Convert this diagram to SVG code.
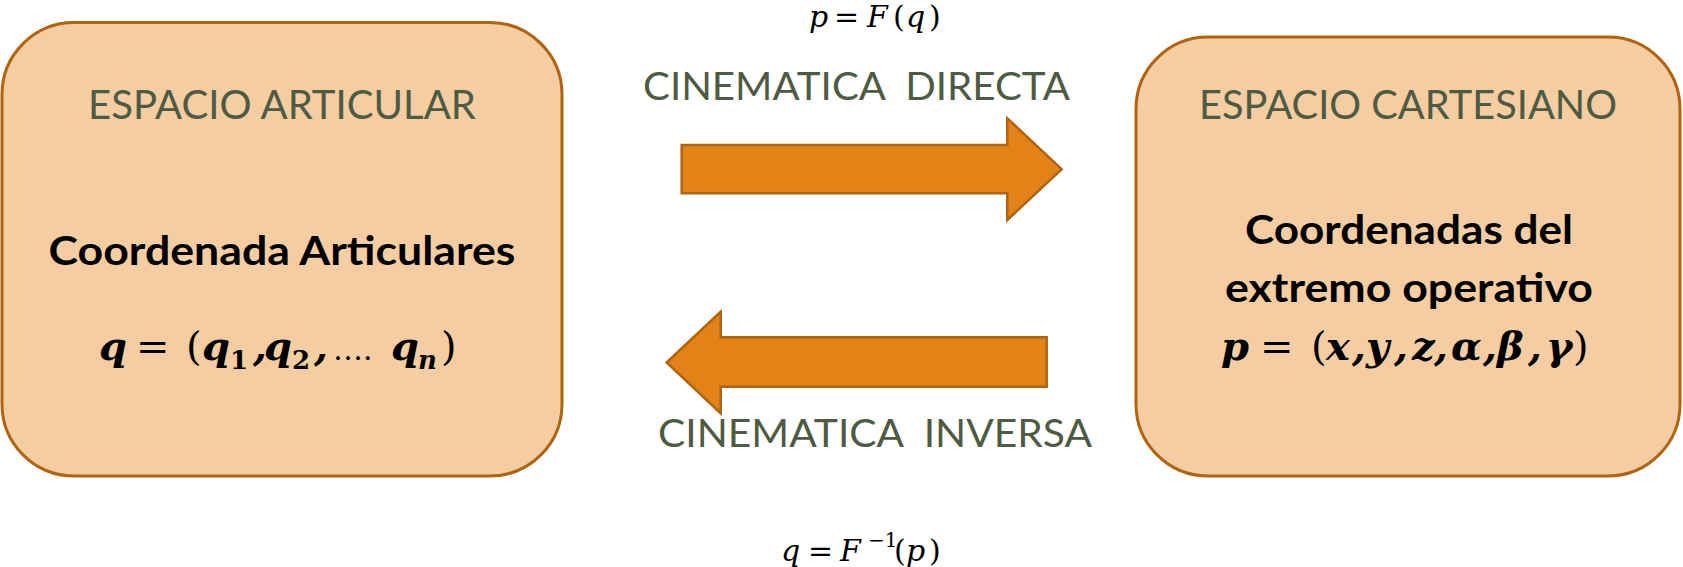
<svg xmlns="http://www.w3.org/2000/svg" width="1683" height="567" viewBox="0 0 1683 567">
<style>
.box{fill:#F4CDA2;stroke:#B0640F;stroke-width:3}
.arrow{fill:#E38216;stroke:#B0640F;stroke-width:2.5;stroke-linejoin:miter}
.lbl{font-family:Lato,"Open Sans","Liberation Sans",sans-serif;fill:#4F5A42;text-anchor:middle}
.ttl{font-family:Lato,"Open Sans","Liberation Sans",sans-serif;font-weight:bold;fill:#000;text-anchor:middle}
.mth{font-family:"DejaVu Serif",serif;fill:#000}
.bi{font-weight:bold;font-style:italic}
.it{font-style:italic}
</style>
<rect width="1683" height="567" fill="#fff"/>
<g id="connectors">
  <g id="directa">
    <polygon class="arrow" points="681.7,145 1007.3,145 1007.3,118.3 1061.7,169.2 1007.3,220 1007.3,193.3 681.7,193.3"/>
    <text class="lbl" x="856.5" y="100" font-size="38" xml:space="preserve" textLength="427" lengthAdjust="spacingAndGlyphs">CINEMATICA  DIRECTA</text>
    <text class="mth" y="27" font-size="30"><tspan class="it" x="809">p</tspan><tspan x="834">=</tspan><tspan class="it" x="867">F</tspan><tspan x="893">(</tspan><tspan class="it" x="906">q</tspan><tspan x="929">)</tspan></text>
  </g>
  <g id="inversa">
    <polygon class="arrow" points="666.7,362.5 720.7,311.7 720.7,337.3 1046.7,337.3 1046.7,386.7 720.7,386.7 720.7,413.3"/>
    <text class="lbl" x="875" y="447" font-size="38" xml:space="preserve" textLength="434" lengthAdjust="spacingAndGlyphs">CINEMATICA  INVERSA</text>
    <text class="mth" y="561" font-size="30"><tspan class="it" x="781">q</tspan><tspan x="808">=</tspan><tspan class="it" x="840">F</tspan><tspan x="868" y="547" font-size="20">−1</tspan><tspan x="894" y="561">(</tspan><tspan class="it" x="906">p</tspan><tspan x="929">)</tspan></text>
  </g>
</g>
<g id="espacio-articular">
  <rect class="box" x="2" y="22.5" width="560" height="453.5" rx="72" ry="72"/>
  <text class="lbl" x="282" y="119" font-size="40" textLength="388" lengthAdjust="spacingAndGlyphs">ESPACIO ARTICULAR</text>
  <text class="ttl" x="282" y="265" font-size="40" textLength="467" lengthAdjust="spacingAndGlyphs">Coordenada Articulares</text>
  <text class="mth" y="360" font-size="40"><tspan class="bi" x="99">q</tspan><tspan x="136">=</tspan><tspan x="186">(</tspan><tspan class="bi" x="202">q</tspan><tspan font-weight="bold" x="230" y="369" font-size="26">1</tspan><tspan class="bi" x="253" y="360">,</tspan><tspan class="bi" x="264">q</tspan><tspan font-weight="bold" x="292" y="369" font-size="26">2</tspan><tspan class="bi" x="314" y="360">,</tspan><tspan x="333" font-size="30">….</tspan><tspan class="bi" x="391">q</tspan><tspan class="bi" x="418" y="369" font-size="26">n</tspan><tspan x="441" y="360">)</tspan></text>
</g>
<g id="espacio-cartesiano">
  <rect class="box" x="1136" y="37" width="544" height="439" rx="72" ry="72"/>
  <text class="lbl" x="1408" y="119" font-size="40" textLength="418" lengthAdjust="spacingAndGlyphs">ESPACIO CARTESIANO</text>
  <text class="ttl" x="1409" y="244" font-size="40" textLength="328" lengthAdjust="spacingAndGlyphs">Coordenadas del</text>
  <text class="ttl" x="1409" y="302" font-size="40" textLength="368" lengthAdjust="spacingAndGlyphs">extremo operativo</text>
  <text class="mth" y="360" font-size="40"><tspan class="bi" x="1221">p</tspan><tspan x="1260">=</tspan><tspan x="1311">(</tspan><tspan class="bi" x="1326">x</tspan><tspan class="bi" x="1352">,</tspan><tspan class="bi" x="1366">y</tspan><tspan class="bi" x="1394">,</tspan><tspan class="bi" x="1412">z</tspan><tspan class="bi" x="1434">,</tspan><tspan class="bi" x="1451">α</tspan><tspan class="bi" x="1483">,</tspan><tspan class="bi" x="1497">β</tspan><tspan class="bi" x="1528">,</tspan><tspan class="bi" x="1546">γ</tspan><tspan x="1573">)</tspan></text>
</g>
</svg>
